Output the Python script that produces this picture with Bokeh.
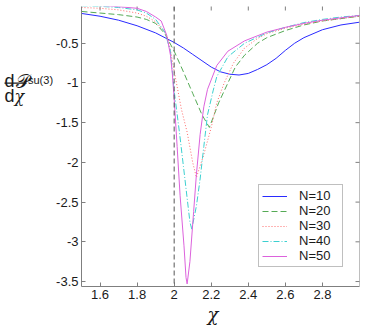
from bokeh.plotting import figure
from bokeh.layouts import row
from bokeh.models import Range1d, FixedTicker, Span, Legend, LegendItem, Title
from bokeh.core.properties import value
from bokeh.embed import file_html
from bokeh.resources import INLINE

# ---- data ----
x_ticks = [1.6, 1.8, 2.0, 2.2, 2.4, 2.6, 2.8]
x_tick_labels = ["1.6", "1.8", "2", "2.2", "2.4", "2.6", "2.8"]
y_ticks = [-3.5, -3.0, -2.5, -2.0, -1.5, -1.0, -0.5]
y_tick_labels = ["-3.5", "-3", "-2.5", "-2", "-1.5", "-1", "-0.5"]
critical_chi = 2.0

n10_x = [1.5, 1.6, 1.7, 1.8, 1.9, 2.0, 2.05, 2.1, 2.15, 2.2, 2.25, 2.3, 2.35, 2.4, 2.45, 2.5, 2.55, 2.6, 2.65, 2.7, 2.8, 2.9, 3.0]
n10_y = [-0.125, -0.16, -0.21, -0.28, -0.37, -0.49, -0.56, -0.64, -0.72, -0.80, -0.86, -0.89, -0.90, -0.88, -0.83, -0.77, -0.69, -0.59, -0.50, -0.43, -0.33, -0.27, -0.235]

n20_x = [1.5, 1.6, 1.7, 1.8, 1.85, 1.9, 1.95, 2.0, 2.05, 2.1, 2.15, 2.19, 2.24, 2.29, 2.33, 2.38, 2.45, 2.5, 2.6, 2.7, 2.8, 2.9, 3.0]
n20_y = [-0.10, -0.12, -0.14, -0.17, -0.20, -0.25, -0.38, -0.60, -0.86, -1.13, -1.40, -1.56, -1.25, -1.00, -0.80, -0.65, -0.50, -0.43, -0.34, -0.27, -0.22, -0.19, -0.16]

n30_x = [1.5, 1.6, 1.7, 1.8, 1.85, 1.9, 1.95, 1.97, 2.0, 2.04, 2.07, 2.1, 2.12, 2.16, 2.2, 2.23, 2.27, 2.32, 2.38, 2.45, 2.5, 2.6, 2.7, 2.8, 2.9, 3.0]
n30_y = [-0.05, -0.06, -0.08, -0.12, -0.16, -0.23, -0.36, -0.46, -0.85, -1.34, -1.62, -2.00, -2.19, -1.90, -1.56, -1.25, -1.00, -0.75, -0.56, -0.44, -0.38, -0.31, -0.26, -0.22, -0.19, -0.16]

n40_x = [1.5, 1.6, 1.7, 1.8, 1.85, 1.9, 1.95, 1.98, 2.0, 2.03, 2.05, 2.07, 2.085, 2.095, 2.12, 2.14, 2.16, 2.18, 2.21, 2.23, 2.29, 2.38, 2.5, 2.6, 2.7, 2.8, 2.9, 3.0]
n40_y = [-0.03, -0.035, -0.05, -0.08, -0.12, -0.20, -0.36, -0.60, -1.10, -1.65, -2.05, -2.45, -2.75, -2.84, -2.55, -2.21, -1.80, -1.40, -1.10, -0.92, -0.67, -0.50, -0.37, -0.30, -0.24, -0.20, -0.17, -0.15]

n50_x = [1.5, 1.6, 1.7, 1.8, 1.85, 1.9, 1.93, 1.96, 1.98, 1.99, 2.0, 2.016, 2.032, 2.053, 2.064, 2.07, 2.085, 2.105, 2.12, 2.14, 2.16, 2.18, 2.23, 2.29, 2.38, 2.5, 2.6, 2.7, 2.8, 2.9, 3.0]
n50_y = [-0.02, -0.025, -0.04, -0.06, -0.10, -0.17, -0.22, -0.40, -0.65, -0.88, -1.20, -1.80, -2.42, -3.05, -3.45, -3.53, -3.25, -2.62, -2.15, -1.65, -1.30, -1.08, -0.78, -0.60, -0.47, -0.36, -0.30, -0.25, -0.21, -0.18, -0.15]

series_names = ["N=10", "N=20", "N=30", "N=40", "N=50"]

X0, X1 = 1.5, 3.0
Y0, Y1 = -3.5625, -0.0375

axis_gray = "#7f7f7f"
label_col = "#1a1a1a"

# ---------- left strip: y-axis label written as the fraction  dP_su(3) / dchi ----------
LW, H = 53, 327
lf = figure(width=LW, height=H, x_range=Range1d(0, LW), y_range=Range1d(H, 0),
            x_axis_type=None, y_axis_type=None, output_backend="svg",
            toolbar_location=None, min_border=0)
lf.outline_line_color = None
lf.background_fill_color = "white"
lf.border_fill_color = "white"

sans = value("Liberation Sans")
lf.text(x=[4], y=[87], text=["d"], text_font=sans, text_font_size="18px",
        text_color=label_col, text_baseline="alphabetic")
lf.text(x=[15], y=[87], text=["\U0001D4AB"], text_font=value("DejaVu Serif"),
        text_font_size="19px", text_color=label_col, text_baseline="alphabetic")
lf.text(x=[27.5], y=[86], text=["su(3)"], text_font=sans, text_font_size="11px",
        text_color=label_col, text_baseline="alphabetic")
lf.segment(x0=[4], y0=[89.5], x1=[26], y1=[89.5], line_color=label_col, line_width=1.3)
lf.text(x=[4], y=[105], text=["d"], text_font=sans, text_font_size="18px",
        text_color=label_col, text_baseline="alphabetic")
lf.text(x=[14], y=[105], text=["\u03C7"], text_font=value("DejaVu Serif"),
        text_font_style="italic", text_font_size="16px", text_color=label_col,
        text_baseline="alphabetic")

# ---------- main plot ----------
p = figure(width=366 - LW, height=H, x_range=Range1d(X0, X1), y_range=Range1d(Y0, Y1),
           output_backend="svg", toolbar_location=None,
           min_border_left=79 - LW, min_border_right=7, min_border_top=6,
           min_border_bottom=41)
p.background_fill_color = "white"
p.border_fill_color = "white"
p.outline_line_color = None
p.grid.visible = False

for ax in (p.xaxis[0], p.yaxis[0]):
    ax.axis_line_color = axis_gray
    ax.major_tick_line_color = axis_gray
    ax.major_tick_in = 4
    ax.major_tick_out = 0
    ax.minor_tick_line_color = None
    ax.major_label_text_font = "Liberation Sans"
    ax.major_label_text_font_size = "13px"
    ax.major_label_text_color = label_col

p.xaxis[0].ticker = FixedTicker(ticks=x_ticks)
p.xaxis[0].major_label_overrides = dict(zip(x_ticks, x_tick_labels))
p.xaxis[0].major_label_standoff = 3
p.yaxis[0].ticker = FixedTicker(ticks=y_ticks)
p.yaxis[0].major_label_overrides = dict(zip(y_ticks, y_tick_labels))
p.yaxis[0].major_label_standoff = 3

# x-axis label
p.add_layout(Title(text="\u03C7", align="left", offset=126, standoff=0,
                   text_font="DejaVu Serif", text_font_style="italic",
                   text_font_size="18px", text_color=label_col), "below")

# right border line and inward ticks on the right and top edges
p.add_layout(Span(location=X1, dimension="height", line_color=axis_gray, line_width=1))
p.scatter([X1] * len(y_ticks), y_ticks, marker="dash", size=8, line_color=axis_gray,
          line_width=1)
p.scatter(x_ticks, [Y1] * len(x_ticks), marker="dash", angle=1.5708, size=8,
          line_color=axis_gray, line_width=1)

p.add_layout(Span(location=critical_chi, dimension="height", line_color="#555555",
                  line_dash="5 3", line_width=1))

r10 = p.line(n10_x, n10_y, line_color="#2a2aff", line_width=1)
r20 = p.line(n20_x, n20_y, line_color="#55aa55", line_width=1, line_dash="6 3")
r30 = p.line(n30_x, n30_y, line_color="#ff6a6a", line_width=1, line_dash="1 2")
r40 = p.line(n40_x, n40_y, line_color="#3cd0d0", line_width=1, line_dash="6 2 1 2")
r50 = p.line(n50_x, n50_y, line_color="#dc62dc", line_width=1)

legend = Legend(items=[LegendItem(label=n, renderers=[r]) for n, r in
                       zip(series_names, [r10, r20, r30, r40, r50])],
                location=(177, 19), border_line_color=axis_gray, background_fill_color="white",
                background_fill_alpha=1.0, label_text_font="Liberation Sans",
                label_text_font_size="13px", label_text_color=label_col,
                glyph_width=25, glyph_height=12, label_height=12, label_width=40,
                spacing=0, padding=3, margin=0, label_standoff=12)
p.add_layout(legend, "center")

open("out.html", "w").write(file_html(row(lf, p), INLINE))
